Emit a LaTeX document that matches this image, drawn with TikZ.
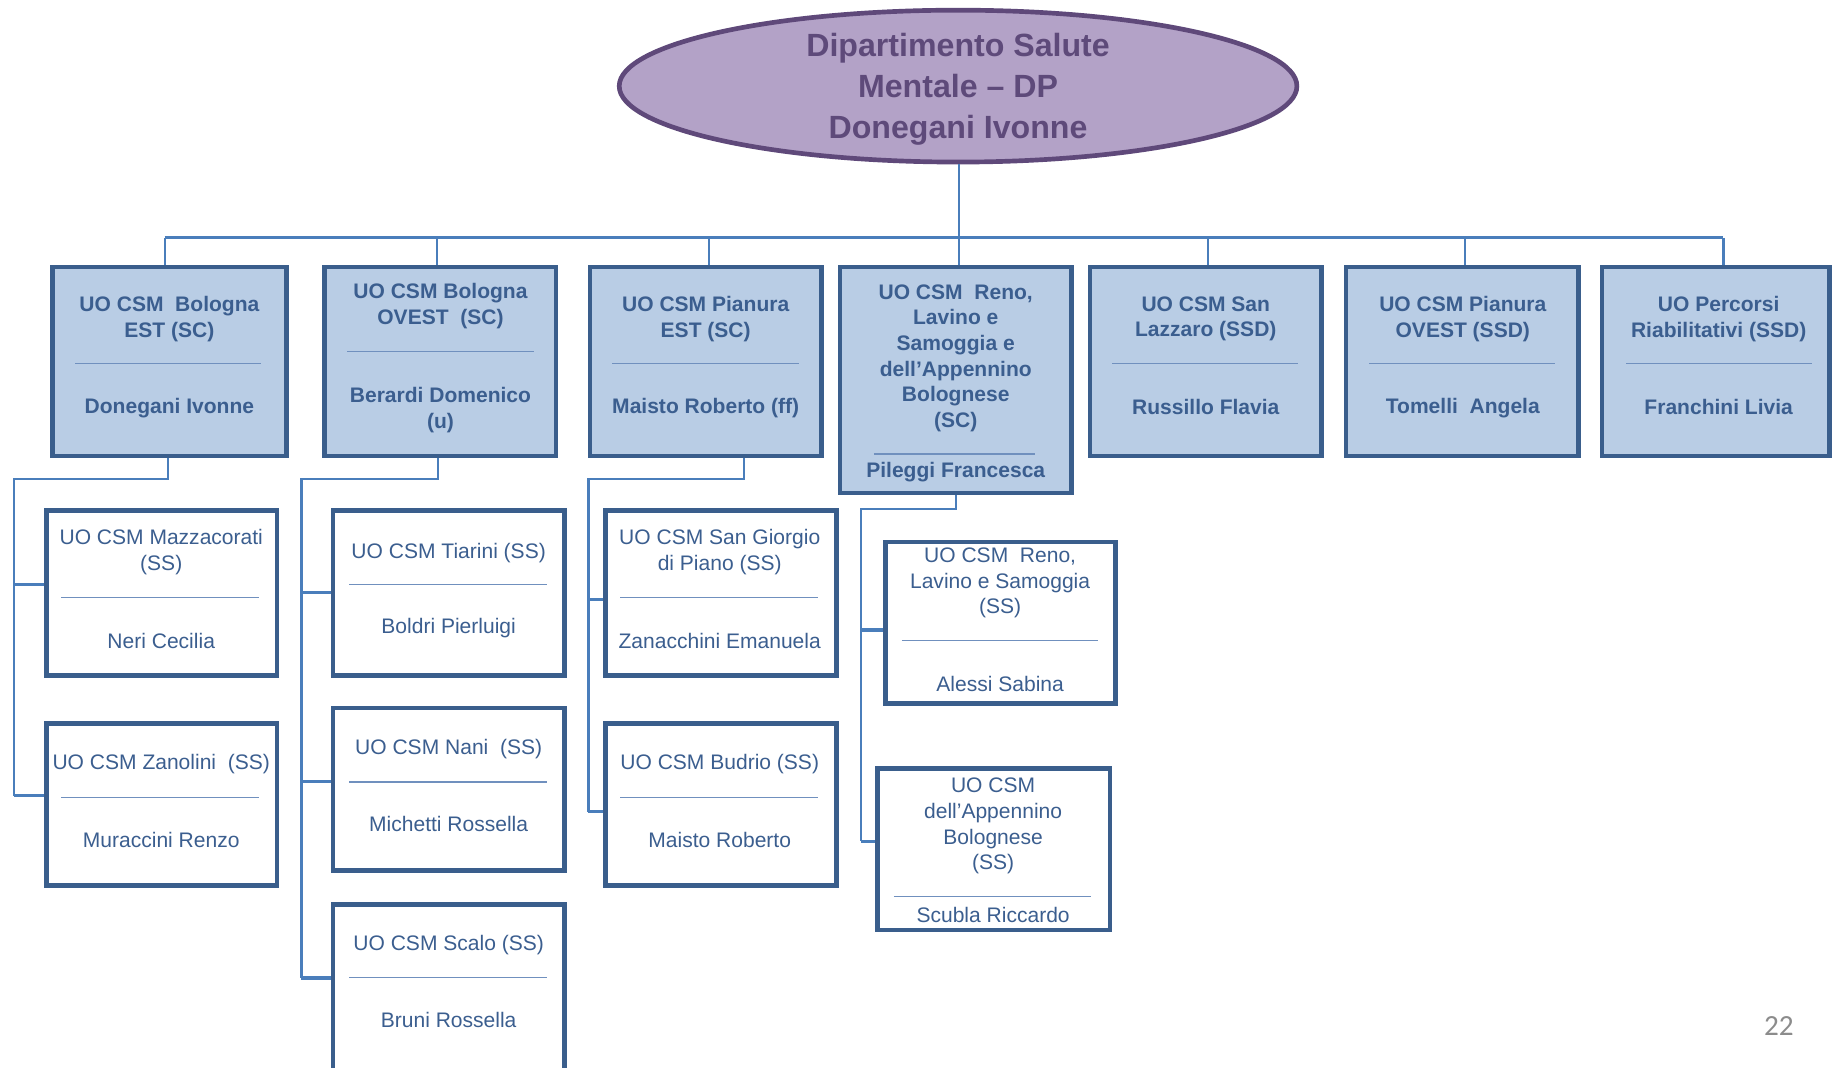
\documentclass[tikz,border=0pt]{standalone}
\usepackage{fontspec}
\setmainfont{Liberation Sans}
\newfontfamily\pagenumfont{Carlito}
\usetikzlibrary{shapes.geometric,fit}
\definecolor{ellfill}{HTML}{B3A2C7}
\definecolor{elldraw}{HTML}{5F497A}
\definecolor{elltext}{HTML}{5E4A7A}
\definecolor{topfill}{HTML}{B9CDE5}
\definecolor{boxdraw}{HTML}{3A5E8C}
\definecolor{boxtext}{HTML}{3B5E8F}
\definecolor{conn}{HTML}{4A7EBB}
\definecolor{sepcol}{HTML}{7090BE}
\definecolor{pagegray}{HTML}{8C8C8C}
\begin{document}
\begin{tikzpicture}[x=1pt,y=-1pt,
  topbox/.style={draw=boxdraw, fill=topfill, line width=4pt, inner sep=0pt},
  childbox/.style={draw=boxdraw, fill=white, line width=4pt, inner sep=0pt},
  toptext/.style={text=boxtext, font=\fontsize{18}{22}\selectfont\bfseries, align=center, inner sep=0pt},
  childtext/.style={text=boxtext, font=\fontsize{18}{22}\selectfont, align=center, inner sep=0pt},
  sepline/.style={draw=sepcol, line width=1.2pt},
  link/.style={draw=conn, line width=2pt},
  tick/.style={draw=conn, line width=2.8pt},
  bus/.style={draw=conn, line width=2.6pt},
]
\useasboundingbox (0,0) rectangle (1568,914);
\clip (0,0) rectangle (1568,914);
\fill[white] (0,0) rectangle (1568,914);

% root
\node[ellipse, draw=elldraw, fill=ellfill, line width=4pt, minimum width=580pt, minimum height=130pt, inner sep=0pt] (root) at (820,73.7) {};
\node[text=elltext, font=\fontsize{27.5}{35}\selectfont\bfseries, align=center, inner sep=0pt] (roottext) at (820,76.3) {Dipartimento Salute\\Mentale -- DP\\Donegani Ivonne};

% top boxes
\node[topbox, fit={(45,228.5) (245,390.3)}] (T1) {};
\node[topbox, fit={(278,228.5) (476,390.3)}] (T2) {};
\node[topbox, fit={(505,228.5) (703,390.3)}] (T3) {};
\node[topbox, fit={(719,228.5) (917,422)}] (T4) {};
\node[topbox, fit={(933,228.5) (1131,390.3)}] (T5) {};
\node[topbox, fit={(1152,228.5) (1351,390.3)}] (T6) {};
\node[topbox, fit={(1371,228.5) (1566,390.3)}] (T7) {};

\node[toptext] (T1t) at (145,273) {UO CSM\ \ Bologna\\EST (SC)};
\draw[sepline] (64.5,311.2) -- (223.7,311.2);
\node[toptext] (T1p) at (145,349.5) {Donegani\ Ivonne};

\node[toptext] (T2t) at (377,262) {UO CSM Bologna\\OVEST\ \ (SC)};
\draw[sepline] (297,301) -- (457,301);
\node[toptext] (T2p) at (377,350.7) {Berardi Domenico\\(u)};

\node[toptext] (T3t) at (604,273) {UO CSM Pianura\\EST (SC)};
\draw[sepline] (524,311.2) -- (684,311.2);
\node[toptext] (T3p) at (604,349.5) {Maisto Roberto (ff)};

\node[toptext] (T4t) at (818,306.6) {UO CSM\ \ Reno,\\Lavino e\\Samoggia e\\dell’Appennino\\Bolognese\\(SC)};
\draw[sepline] (748,388.6) -- (886,388.6);
\node[toptext] (T4p) at (818,403.8) {Pileggi Francesca};

\node[toptext] (T5t) at (1032,273) {UO CSM San\\Lazzaro (SSD)};
\draw[sepline] (952,311.2) -- (1111,311.2);
\node[toptext] (T5p) at (1032,348.5) {Russillo\ Flavia};

\node[toptext] (T6t) at (1252,273) {UO CSM Pianura\\OVEST (SSD)};
\draw[sepline] (1172,311.2) -- (1331,311.2);
\node[toptext] (T6p) at (1252,349.5) {Tomelli\ \ Angela};

\node[toptext] (T7t) at (1471,273) {UO Percorsi\\Riabilitativi (SSD)};
\draw[sepline] (1392,311.2) -- (1551,311.2);
\node[toptext] (T7p) at (1471,348.5) {Franchini Livia};

% child boxes
\node[childbox, fit={(40,437) (237,578)}] (C1a) {};
\node[childbox, fit={(40,619) (237,758)}] (C1b) {};
\node[childbox, fit={(285,437) (483,578)}] (C2a) {};
\node[childbox, fit={(285,606) (483,745)}] (C2b) {};
\node[childbox, fit={(285,774) (483,940)}] (C2c) {};
\node[childbox, fit={(518,437) (716,578)}] (C3a) {};
\node[childbox, fit={(518,619) (716,758)}] (C3b) {};
\node[childbox, fit={(758,464) (955,602)}] (C4a) {};
\node[childbox, fit={(751,658) (950,796)}] (C4b) {};

\node[childtext] (C1at) at (138,472.5) {UO CSM Mazzacorati\\(SS)};
\draw[sepline] (52.4,511.6) -- (221.8,511.6);
\node[childtext] (C1ap) at (138,548.5) {Neri Cecilia};

\node[childtext] (C1bt) at (138,654.2) {UO CSM Zanolini\ \ (SS)};
\draw[sepline] (52.4,682.7) -- (221.8,682.7);
\node[childtext] (C1bp) at (138,718.9) {Muraccini Renzo};

\node[childtext] (C2at) at (384,473) {UO CSM Tiarini (SS)};
\draw[sepline] (299,500.5) -- (468,500.5);
\node[childtext] (C2ap) at (384,537.8) {Boldri Pierluigi};

\node[childtext] (C2bt) at (384,641.4) {UO CSM Nani\ \ (SS)};
\draw[sepline] (299,669.2) -- (468,669.2);
\node[childtext] (C2bp) at (384,705.5) {Michetti Rossella};

\node[childtext] (C2ct) at (384,809) {UO CSM Scalo (SS)};
\draw[sepline] (299,836.5) -- (468,836.5);
\node[childtext] (C2cp) at (384,873.2) {Bruni Rossella};

\node[childtext] (C3at) at (616,472.5) {UO CSM San Giorgio\\di Piano (SS)};
\draw[sepline] (531,511.6) -- (700,511.6);
\node[childtext] (C3ap) at (616,548.2) {Zanacchini\ Emanuela};

\node[childtext] (C3bt) at (616,654.2) {UO CSM Budrio (SS)};
\draw[sepline] (531,682.7) -- (700,682.7);
\node[childtext] (C3bp) at (616,718.9) {Maisto Roberto};

\node[childtext] (C4at) at (856,499) {UO CSM\ \ Reno,\\Lavino e Samoggia\\(SS)};
\draw[sepline] (772,548.4) -- (940,548.4);
\node[childtext] (C4ap) at (856,585.4) {Alessi Sabina};

\node[childtext] (C4bt) at (850,707) {UO CSM\\dell’Appennino\\Bolognese\\(SS)};
\draw[sepline] (765,767.4) -- (934,767.4);
\node[childtext] (C4bp) at (850,783) {Scubla Riccardo};

% bus from root
\coordinate (bus1) at (141,203.5);
\coordinate (bus2) at (374,203.5);
\coordinate (bus3) at (607,203.5);
\coordinate (bus4) at (821,203.5);
\coordinate (bus5) at (1034,203.5);
\coordinate (bus6) at (1254,203.5);
\coordinate (bus7) at (1475,203.5);
\draw[link] (root.south -| bus4) -- (bus4);
\draw[bus] (bus1) -- (bus7);
\foreach \i in {1,...,7} {\draw[link] (bus\i) -- (bus\i |- T\i.north);}

% T1 children
\coordinate (h1) at (144,409.8);
\coordinate (a1) at (12,500);
\coordinate (b1) at (12,681);
\draw[link] (h1 |- T1.south) -- (h1) -| (b1);
\draw[tick] (a1) -- (a1 -| C1a.west);
\draw[tick] (b1) -- (b1 -| C1b.west);

% T2 children
\coordinate (h2) at (375,409.8);
\coordinate (a2) at (258,507);
\coordinate (b2) at (258,669);
\coordinate (c2) at (258,837);
\draw[link] (h2 |- T2.south) -- (h2) -| (c2);
\draw[tick] (a2) -- (a2 -| C2a.west);
\draw[tick] (b2) -- (b2 -| C2b.west);
\draw[tick] (c2) -- (c2 -| C2c.west);

% T3 children
\coordinate (h3) at (636.6,409.8);
\coordinate (a3) at (503.6,513.4);
\coordinate (b3) at (503.6,694.8);
\draw[link] (h3 |- T3.south) -- (h3) -| (b3);
\draw[tick] (a3) -- (a3 -| C3a.west);
\draw[tick] (b3) -- (b3 -| C3b.west);

% T4 children
\coordinate (h4) at (818,435.7);
\coordinate (a4) at (737,539.3);
\coordinate (b4) at (737,720);
\draw[link] (h4 |- T4.south) -- (h4) -| (b4);
\draw[tick] (a4) -- (a4 -| C4a.west);
\draw[tick] (b4) -- (b4 -| C4b.west);

% page number
\node[font=\pagenumfont\fontsize{25}{30}\selectfont, text=pagegray, inner sep=0pt] (pg) at (1522.5,878) {22};
\end{tikzpicture}
\end{document}
